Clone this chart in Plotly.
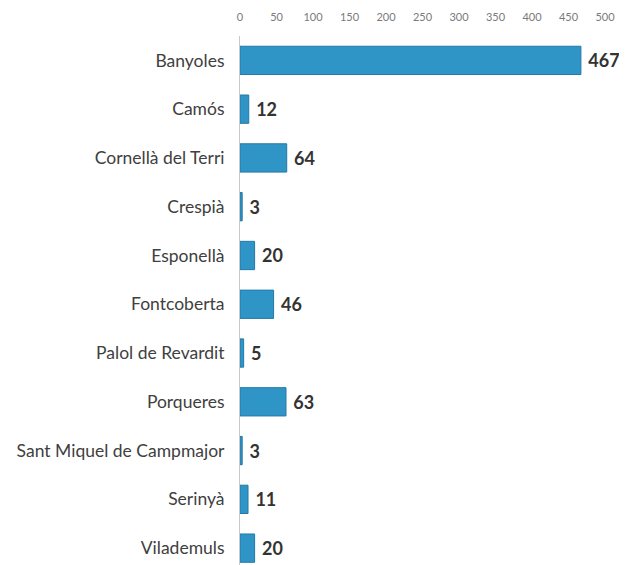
import plotly.graph_objects as go

categories = ["Banyoles", "Camós", "Cornellà del Terri", "Crespià", "Esponellà",
              "Fontcoberta", "Palol de Revardit", "Porqueres",
              "Sant Miquel de Campmajor", "Serinyà", "Vilademuls"]
values = [467, 12, 64, 3, 20, 46, 5, 63, 3, 11, 20]
x_ticks = [0, 50, 100, 150, 200, 250, 300, 350, 400, 450, 500]

fig = go.Figure(go.Bar(
    x=values, y=categories, orientation="h",
    marker=dict(color="#2F95C6", line=dict(color="#2479A6", width=1)),
    width=0.58,
    text=[str(v) for v in values], textposition="outside",
    textfont=dict(family="Lato, Open Sans, sans-serif", size=18, color="#333333"),
    texttemplate="<b>\u00a0%{text}</b>",
    cliponaxis=False,
))

fig.update_layout(
    width=627, height=565,
    margin=dict(l=232, r=30, t=28, b=0),
    plot_bgcolor="white", paper_bgcolor="white",
    showlegend=False,
    xaxis=dict(side="top", range=[0, 500], tickvals=x_ticks, showgrid=False,
               zeroline=False, showline=False, ticks="",
               tickfont=dict(family="Lato, Open Sans, sans-serif", size=11, color="#7a7a7a"),
               ticklabelstandoff=12),
    yaxis=dict(categoryorder="array", categoryarray=categories,
               range=[10.51, -0.5], showgrid=False, zeroline=False,
               showline=True, linecolor="#c8c8c8", linewidth=1, ticks="",
               tickfont=dict(family="Lato, Open Sans, sans-serif", size=17.5, color="#404040"),
               ticklabelstandoff=11),
)

fig.write_html("out.html")
